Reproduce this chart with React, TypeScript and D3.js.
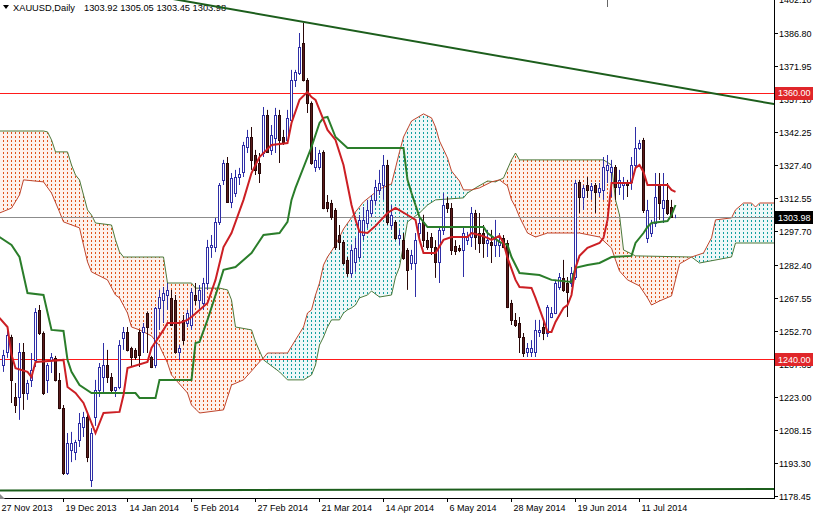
import React from 'react';
import * as d3 from 'd3';

const WIDTH = 813;
const HEIGHT = 515;
const PLOT_RIGHT = 774;
const PLOT_BOTTOM = 498;

// daily bars, one per trading day
const opens = [
  1237.4, 1243.3, 1250.0, 1223.0, 1223.0, 1243.3, 1224.8, 1230.7, 1239.7, 1262.2,
  1251.8, 1230.7, 1239.7, 1240.6, 1230.7, 1218.0, 1188.8, 1199.2, 1198.3, 1203.7,
  1209.5, 1214.0, 1185.6, 1214.0, 1226.2, 1232.0, 1237.4, 1232.0, 1226.2, 1227.5,
  1249.5, 1252.3, 1245.1, 1244.2, 1252.3, 1252.3, 1260.8, 1241.0, 1237.4, 1263.0,
  1266.7, 1268.9, 1267.6, 1266.7, 1243.3, 1257.7, 1256.3, 1255.4, 1268.9, 1266.7,
  1265.3, 1274.3, 1290.5, 1290.5, 1301.8, 1320.7, 1328.3, 1310.7, 1314.8, 1322.0,
  1324.3, 1335.5, 1340.0, 1331.9, 1328.3, 1332.8, 1349.9, 1334.2, 1339.6, 1349.9,
  1340.0, 1338.7, 1347.7, 1365.7, 1368.8, 1382.3, 1365.7, 1355.3, 1326.5, 1326.5,
  1333.3, 1310.7, 1310.3, 1307.2, 1295.9, 1292.7, 1284.7, 1278.8, 1283.8, 1286.0,
  1295.9, 1301.3, 1305.8, 1311.7, 1316.2, 1318.4, 1327.4, 1300.4, 1301.8, 1294.5,
  1293.6, 1289.2, 1283.3, 1283.3, 1296.8, 1301.8, 1293.6, 1295.0, 1290.5, 1283.8,
  1298.2, 1310.3, 1308.0, 1290.9, 1290.0, 1289.2, 1293.6, 1295.0, 1305.8, 1296.8,
  1296.8, 1292.3, 1292.7, 1291.4, 1291.4, 1294.5, 1292.3, 1265.3, 1257.7, 1256.3,
  1250.0, 1243.3, 1243.3, 1243.3, 1252.3, 1254.5, 1251.8, 1259.0, 1260.8, 1272.5,
  1276.6, 1274.3, 1274.3, 1277.0, 1319.7, 1313.0, 1318.4, 1316.2, 1318.4, 1315.3,
  1316.2, 1325.2, 1324.3, 1326.5, 1317.5, 1318.4, 1319.3, 1319.7, 1327.4, 1335.0,
  1338.7, 1294.5, 1296.8, 1301.3, 1318.4, 1308.0, 1311.7, 1308.5, 1303.92,
];
const highs = [
  1244.2, 1253.2, 1251.0, 1229.3, 1247.3, 1247.3, 1230.7, 1242.8, 1263.0, 1264.4,
  1252.5, 1238.3, 1242.8, 1241.5, 1233.8, 1219.4, 1206.8, 1207.3, 1203.7, 1215.8,
  1216.3, 1216.3, 1209.0, 1230.7, 1238.3, 1247.3, 1244.2, 1233.8, 1227.5, 1248.6,
  1254.5, 1254.5, 1245.6, 1245.0, 1253.2, 1256.3, 1261.5, 1241.5, 1263.5, 1271.2,
  1272.5, 1274.3, 1271.2, 1268.9, 1246.4, 1259.9, 1262.2, 1272.0, 1274.3, 1273.4,
  1276.6, 1293.7, 1295.9, 1303.6, 1319.3, 1329.7, 1331.0, 1323.8, 1325.2, 1326.1,
  1337.8, 1343.2, 1344.5, 1334.2, 1332.8, 1353.5, 1352.2, 1345.4, 1353.1, 1352.2,
  1343.2, 1352.2, 1370.2, 1370.2, 1386.8, 1391.3, 1366.5, 1356.0, 1335.5, 1334.2,
  1334.0, 1313.9, 1311.7, 1308.0, 1300.4, 1293.6, 1286.0, 1291.4, 1294.6, 1304.9,
  1308.5, 1311.7, 1313.9, 1320.7, 1325.2, 1331.9, 1329.7, 1309.4, 1302.5, 1298.2,
  1296.8, 1290.0, 1289.2, 1296.8, 1303.6, 1305.0, 1297.3, 1296.8, 1293.6, 1299.5,
  1314.8, 1313.0, 1310.3, 1293.6, 1291.4, 1299.5, 1297.3, 1308.5, 1307.2, 1305.8,
  1300.4, 1298.2, 1298.2, 1302.7, 1296.8, 1295.9, 1293.6, 1266.7, 1260.8, 1259.0,
  1251.8, 1247.3, 1248.6, 1257.7, 1257.7, 1256.8, 1264.4, 1263.5, 1275.7, 1278.8,
  1284.7, 1277.0, 1281.5, 1320.7, 1320.7, 1318.4, 1322.0, 1319.3, 1319.3, 1319.3,
  1331.0, 1331.9, 1329.7, 1327.4, 1325.2, 1322.0, 1320.7, 1331.0, 1344.5, 1338.7,
  1339.6, 1311.7, 1302.7, 1323.8, 1323.8, 1323.8, 1319.3, 1311.7, 1305.05,
];
const lows = [
  1234.3, 1240.6, 1220.3, 1215.8, 1212.7, 1217.2, 1221.7, 1227.5, 1236.5, 1250.9,
  1223.9, 1224.8, 1233.8, 1230.0, 1217.5, 1187.9, 1187.9, 1193.7, 1194.6, 1200.5,
  1205.0, 1193.7, 1182.5, 1210.0, 1223.0, 1224.8, 1229.3, 1224.8, 1223.0, 1226.5,
  1244.2, 1243.5, 1236.5, 1239.7, 1236.5, 1242.8, 1242.8, 1236.0, 1236.0, 1253.2,
  1256.3, 1262.2, 1255.0, 1242.5, 1239.7, 1246.4, 1254.5, 1253.2, 1264.4, 1262.2,
  1262.2, 1271.2, 1285.6, 1288.2, 1300.4, 1318.4, 1310.3, 1308.0, 1313.0, 1318.4,
  1322.0, 1332.8, 1325.2, 1322.9, 1319.3, 1331.0, 1332.8, 1331.9, 1332.8, 1328.3,
  1336.4, 1337.3, 1347.2, 1362.5, 1367.9, 1365.0, 1350.8, 1327.5, 1324.3, 1325.2,
  1307.5, 1306.2, 1302.7, 1289.2, 1289.2, 1282.5, 1277.0, 1276.6, 1279.3, 1284.7,
  1293.6, 1299.0, 1304.0, 1309.4, 1313.9, 1311.7, 1300.4, 1298.2, 1293.6, 1291.4,
  1284.7, 1271.2, 1280.2, 1268.0, 1293.6, 1290.5, 1289.2, 1286.9, 1276.6, 1274.3,
  1295.9, 1305.8, 1286.9, 1286.9, 1288.2, 1277.0, 1291.4, 1290.5, 1289.2, 1287.8,
  1285.6, 1286.0, 1283.3, 1286.0, 1286.0, 1290.0, 1263.0, 1255.4, 1254.5, 1242.8,
  1241.0, 1241.0, 1241.0, 1241.0, 1250.0, 1248.6, 1250.0, 1258.5, 1260.3, 1271.2,
  1270.3, 1259.0, 1272.5, 1275.7, 1305.8, 1307.2, 1312.6, 1311.7, 1305.8, 1313.0,
  1311.7, 1319.3, 1313.0, 1311.7, 1313.9, 1311.7, 1313.0, 1316.2, 1326.5, 1334.2,
  1305.8, 1292.3, 1295.0, 1299.5, 1302.7, 1301.3, 1304.9, 1303.6, 1303.45,
];
const closes = [
  1241.9, 1250.9, 1230.7, 1219.4, 1243.3, 1224.8, 1229.3, 1235.2, 1261.3, 1251.8,
  1224.8, 1237.4, 1241.0, 1230.7, 1218.0, 1188.8, 1202.3, 1202.3, 1202.8, 1211.3,
  1214.0, 1196.0, 1206.8, 1226.2, 1236.5, 1237.4, 1232.0, 1226.2, 1227.5, 1246.4,
  1252.3, 1244.2, 1241.0, 1241.0, 1241.9, 1254.5, 1254.5, 1236.5, 1263.0, 1268.0,
  1269.8, 1271.2, 1255.4, 1243.3, 1245.1, 1248.6, 1260.8, 1270.3, 1266.7, 1271.2,
  1274.3, 1290.5, 1291.4, 1301.8, 1318.4, 1328.3, 1310.7, 1321.5, 1322.0, 1323.4,
  1336.4, 1340.0, 1329.7, 1325.2, 1323.8, 1349.9, 1333.3, 1340.9, 1349.9, 1338.7,
  1337.8, 1348.6, 1365.7, 1369.3, 1380.5, 1365.7, 1355.3, 1328.3, 1329.7, 1332.8,
  1308.0, 1308.0, 1304.0, 1290.5, 1292.7, 1283.3, 1278.8, 1289.2, 1290.0, 1302.7,
  1302.7, 1307.2, 1311.7, 1317.5, 1319.3, 1327.4, 1301.8, 1304.9, 1294.5, 1295.9,
  1285.6, 1280.2, 1286.9, 1293.6, 1301.3, 1293.6, 1290.5, 1290.5, 1283.8, 1298.2,
  1309.4, 1308.0, 1289.2, 1288.7, 1289.2, 1296.8, 1295.0, 1305.8, 1295.0, 1292.3,
  1292.3, 1293.6, 1291.4, 1295.0, 1292.7, 1290.5, 1263.5, 1257.7, 1255.4, 1250.0,
  1242.8, 1245.1, 1245.1, 1253.2, 1253.2, 1251.8, 1263.5, 1260.8, 1274.3, 1277.0,
  1271.2, 1270.3, 1278.8, 1319.3, 1313.0, 1317.0, 1316.2, 1318.0, 1315.3, 1317.0,
  1326.5, 1327.4, 1326.5, 1317.5, 1320.7, 1319.3, 1318.4, 1327.4, 1335.0, 1337.3,
  1307.2, 1307.2, 1301.3, 1313.0, 1310.3, 1311.7, 1305.8, 1304.0, 1303.98,
];

// ichimoku lines as [bar, price] vertices
const tenkan: [number, number][] = [
  [-1, 1258.6], [1, 1254.5], [2, 1242.0], [3, 1236.0], [6, 1234.3], [7, 1232.0], [8, 1238.8],
  [15, 1239.7], [16, 1227.5], [18, 1224.8], [20, 1220.3], [23, 1206.8], [25, 1215.8], [29, 1216.3],
  [30, 1223.9], [31, 1236.0], [36, 1238.8], [37, 1245.1], [40, 1253.2], [41, 1256.3], [44, 1256.3],
  [46, 1257.7], [47, 1259.0], [49, 1262.2], [51, 1265.3], [53, 1275.7], [55, 1290.5], [57, 1296.8],
  [60, 1311.7], [62, 1323.8], [64, 1331.0], [67, 1336.4], [71, 1337.3], [72, 1346.3], [74, 1356.7],
  [76, 1360.3], [77, 1358.0], [78, 1356.7], [79, 1352.2], [81, 1343.2], [83, 1338.7], [85, 1327.4],
  [86, 1318.4], [87, 1309.4], [88, 1302.7], [89, 1297.3], [91, 1296.8], [93, 1300.0], [96, 1305.8],
  [98, 1308.1], [101, 1304.9], [103, 1302.7], [104, 1293.7], [105, 1287.8], [108, 1287.8],
  [110, 1293.7], [112, 1295.0], [116, 1295.0], [117, 1296.8], [119, 1295.9], [121, 1294.6],
  [122, 1293.7], [124, 1295.5], [125, 1292.3], [126, 1285.6], [128, 1275.7], [129, 1272.5],
  [132, 1272.1], [133, 1267.6], [135, 1257.7], [136, 1252.3], [137, 1252.3], [138, 1256.8],
  [140, 1263.1], [141, 1264.4], [142, 1268.9], [143, 1281.1], [144, 1286.5], [146, 1290.1],
  [149, 1292.3], [150, 1294.6], [151, 1302.7], [152, 1319.3], [157, 1319.3], [158, 1326.1],
  [159, 1327.4], [160, 1324.3], [161, 1318.4], [166, 1318.4], [167, 1316.2], [168, 1315.3],
];
const kijun: [number, number][] = [
  [-1, 1295.0], [2, 1291.4], [4, 1286.0], [6, 1269.8], [10, 1268.9], [12, 1253.2], [15, 1252.7],
  [16, 1239.7], [17, 1234.3], [19, 1228.4], [22, 1224.8], [33, 1224.8], [34, 1222.6], [38, 1222.6],
  [39, 1230.7], [47, 1230.7], [48, 1247.3], [49, 1247.8], [51, 1257.7], [54, 1274.3], [55, 1280.2],
  [58, 1281.5], [62, 1287.8], [65, 1295.9], [69, 1296.8], [71, 1301.8], [72, 1311.7], [73, 1317.1],
  [77, 1335.5], [79, 1346.3], [80, 1348.6], [81, 1349.0], [83, 1340.0], [86, 1335.1], [100, 1335.1],
  [101, 1320.7], [102, 1314.8], [104, 1304.0], [106, 1299.5], [120, 1299.5], [121, 1296.8],
  [124, 1292.8], [126, 1291.4], [127, 1286.0], [129, 1278.8], [134, 1277.9], [137, 1275.7],
  [142, 1274.8], [143, 1281.1], [146, 1282.4], [149, 1283.3], [152, 1286.0], [157, 1286.5],
  [158, 1292.3], [160, 1296.8], [161, 1299.5], [162, 1301.3], [166, 1302.2], [167, 1304.9],
  [168, 1309.4],
];
const spanA: [number, number][] = [
  [-1, 1305.8], [2, 1308.0], [4, 1313.9], [5, 1320.7], [10, 1319.8], [12, 1314.8], [14, 1306.3],
  [15, 1301.8], [19, 1299.1], [20, 1291.4], [21, 1283.8], [22, 1279.3], [26, 1275.7], [28, 1268.9],
  [29, 1267.6], [31, 1260.8], [32, 1254.5], [34, 1253.2], [37, 1250.5], [39, 1246.0], [41, 1238.3],
  [42, 1232.9], [46, 1224.8], [47, 1219.4], [49, 1215.8], [55, 1217.2], [57, 1228.4], [60, 1230.7],
  [62, 1234.7], [64, 1238.8], [65, 1240.6], [66, 1242.8], [71, 1242.8], [73, 1248.7], [75, 1254.5],
  [76, 1260.8], [77, 1262.2], [78, 1268.9], [79, 1274.3], [80, 1282.4], [81, 1286.0], [83, 1291.4],
  [85, 1298.6], [88, 1306.3], [90, 1310.8], [94, 1316.6], [97, 1318.9], [98, 1326.1], [99, 1333.3],
  [100, 1340.0], [102, 1347.2], [105, 1350.4], [107, 1348.6], [108, 1344.5], [109, 1338.2],
  [111, 1330.6], [112, 1324.7], [114, 1320.2], [115, 1316.2], [117, 1316.2], [119, 1317.1],
  [122, 1319.8], [124, 1320.7], [126, 1318.0], [127, 1311.7], [128, 1308.5], [129, 1304.0],
  [131, 1296.8], [133, 1295.0], [136, 1296.8], [144, 1296.8], [149, 1295.0], [152, 1290.0],
  [153, 1284.7], [154, 1279.7], [156, 1275.7], [159, 1273.0], [161, 1267.6], [162, 1264.4],
  [164, 1266.2], [167, 1268.5], [168, 1275.7], [169, 1282.9], [172, 1286.0], [175, 1287.8],
  [177, 1294.6], [178, 1302.7], [182, 1303.6], [183, 1307.2], [185, 1310.3], [187, 1310.3],
  [188, 1308.5], [189, 1310.3], [194, 1310.3],
];
const spanB: [number, number][] = [
  [-1, 1342.7], [10, 1342.7], [11, 1342.3], [12, 1338.7], [13, 1333.3], [16, 1333.3], [17, 1327.4],
  [18, 1322.9], [19, 1320.7], [20, 1313.9], [21, 1307.2], [22, 1304.9], [23, 1301.3], [27, 1300.4],
  [28, 1293.7], [29, 1288.3], [30, 1286.0], [40, 1286.0], [41, 1274.3], [47, 1274.3], [48, 1272.0],
  [54, 1272.0], [56, 1271.2], [57, 1266.7], [58, 1254.5], [62, 1253.2], [63, 1247.8], [65, 1239.7],
  [69, 1234.3], [71, 1230.7], [75, 1230.7], [77, 1232.9], [78, 1237.4], [79, 1246.4], [80, 1250.0],
  [81, 1254.5], [82, 1257.7], [84, 1257.7], [85, 1260.8], [86, 1262.2], [87, 1263.1], [88, 1264.4],
  [89, 1267.6], [91, 1268.9], [92, 1270.7], [94, 1268.0], [97, 1268.9], [98, 1277.0], [99, 1281.5],
  [100, 1291.4], [101, 1301.8], [104, 1305.8], [106, 1309.4], [108, 1311.7], [115, 1312.6],
  [116, 1314.8], [118, 1317.1], [121, 1320.2], [123, 1319.8], [125, 1321.6], [127, 1329.7],
  [128, 1332.8], [129, 1329.7], [150, 1329.7], [152, 1327.4], [153, 1311.7], [154, 1304.9],
  [155, 1289.2], [156, 1288.3], [158, 1286.5], [172, 1286.0], [174, 1283.3], [182, 1286.0],
  [183, 1292.3], [194, 1292.3],
];

// drawn objects
const hLevels = [1360.0, 1240.0];
const lastPrice = 1303.98;
const trendTop: [number, number][] = [[30, 1406.0], [193, 1354.7]];
const trendBottom: [number, number][] = [[-1, 1180.9], [193, 1181.6]];

const priceTicks = [
  1402.1, 1386.8, 1371.95, 1357.1, 1342.25, 1327.4, 1312.55, 1297.7,
  1282.4, 1267.55, 1252.7, 1237.85, 1223.0, 1208.15, 1193.3, 1178.45,
];
const dateLabels = [
  '27 Nov 2013', '19 Dec 2013', '14 Jan 2014', '5 Feb 2014', '27 Feb 2014', '21 Mar 2014',
  '14 Apr 2014', '6 May 2014', '28 May 2014', '19 Jun 2014', '11 Jul 2014',
];
const dateBars = [-1, 15, 31, 47, 63, 79, 95, 111, 127, 143, 159];

const FONT = '"Liberation Sans", Arial, sans-serif';
const BULL = '#2e2ea6';
const BEAR_FILL = '#5a1c1c';
const BEAR_LINE = '#2a0808';
const TENKAN = '#cc1f24';
const KIJUN = '#2a7d2a';
const TREND = '#1c5e1c';
const LEVEL = '#ff1a1a';
const DOT_UP = '#e0531a';
const DOT_DN = '#11a0a0';

const App: React.FC = () => {
  // 4 px per bar
  const x = d3.scaleLinear().domain([0, 1]).range([3.5, 7.5]);
  const y = d3.scaleLinear().domain([1178.45, 1402.1]).range([496, -1]);

  const line = d3.line<[number, number]>().x(d => x(d[0])).y(d => y(d[1]));

  const cloud = line(spanB)! + line([...spanA].reverse())!.replace(/^M/, 'L') + 'Z';
  const aStart = x(spanA[0][0]);
  const aEnd = x(spanA[spanA.length - 1][0]);
  const aboveA = line(spanA)! + `L${aEnd},-20L${aStart},-20Z`;
  const belowA = line(spanA)! + `L${aEnd},600L${aStart},600Z`;

  return (
    <svg width={WIDTH} height={HEIGHT} style={{ position: 'absolute', left: 0, top: 0, background: '#fff' }}>
      <defs>
        <clipPath id="plot"><rect x={0} y={0} width={PLOT_RIGHT} height={PLOT_BOTTOM} /></clipPath>
        <clipPath id="aboveA"><path d={aboveA} /></clipPath>
        <clipPath id="belowA"><path d={belowA} /></clipPath>
        <pattern id="dotsUp" patternUnits="userSpaceOnUse" x={3} y={0} width={4} height={4}>
          <rect x={0} y={0} width={1} height={2} fill={DOT_UP} />
        </pattern>
        <pattern id="dotsDn" patternUnits="userSpaceOnUse" x={3} y={0} width={4} height={4}>
          <rect x={0} y={0} width={1} height={2} fill={DOT_DN} />
        </pattern>
      </defs>

      <rect x={0} y={0} width={WIDTH} height={HEIGHT} fill="#fff" />

      {/* header */}
      <path d="M3,5 L9,5 L6,9 Z" fill="#000" />
      <text x={13} y={11} fontFamily={FONT} fontSize={9.3} fill="#000">XAUUSD,Daily</text>
      <text x={84} y={11} fontFamily={FONT} fontSize={9.3} fill="#000">1303.92 1305.05 1303.45 1303.98</text>

      <g clipPath="url(#plot)">
        {/* kumo */}
        <path d={cloud} fill="#fdf1ec" clipPath="url(#aboveA)" />
        <path d={cloud} fill="#eef8f8" clipPath="url(#belowA)" />
        <path d={cloud} fill="url(#dotsUp)" clipPath="url(#aboveA)" />
        <path d={cloud} fill="url(#dotsDn)" clipPath="url(#belowA)" />
        <path d={line(spanB)!} fill="none" stroke="#4d7a3c" strokeWidth={1} />
        <path d={line(spanA)!} fill="none" stroke="#c0452c" strokeWidth={1} />

        {/* horizontal levels */}
        {hLevels.map(v => (
          <rect key={v} x={0} y={Math.round(y(v))} width={PLOT_RIGHT} height={1} fill={LEVEL} shapeRendering="crispEdges" />
        ))}
        <rect x={0} y={Math.round(y(lastPrice))} width={PLOT_RIGHT} height={1} fill="#8c8c8c" shapeRendering="crispEdges" />

        {/* candles */}
        {opens.map((o, i) => {
          const c = closes[i];
          const cx = Math.round(x(i) - 0.5) + 0.5;
          const up = c > o;
          const top = Math.round(y(Math.max(o, c)));
          const bot = Math.round(y(Math.min(o, c)));
          return (
            <g key={i}>
              <line x1={cx} x2={cx} y1={y(highs[i])} y2={y(lows[i])} stroke={up ? BULL : BEAR_LINE} strokeWidth={1} />
              <rect x={cx - 1} y={top + 0.5} width={2} height={Math.max(0, bot - top)}
                fill={up ? '#fff' : BEAR_FILL} stroke={up ? BULL : BEAR_LINE} strokeWidth={1} />
            </g>
          );
        })}

        {/* tenkan / kijun */}
        <path d={line(kijun)!} fill="none" stroke={KIJUN} strokeWidth={2} />
        <path d={line(tenkan)!} fill="none" stroke={TENKAN} strokeWidth={2} />

        {/* trendlines */}
        <path d={line(trendTop)!} fill="none" stroke={TREND} strokeWidth={2} />
        <path d={line(trendBottom)!} fill="none" stroke={TREND} strokeWidth={2} />
      </g>

      {/* frame */}
      <line x1={PLOT_RIGHT + 0.5} x2={PLOT_RIGHT + 0.5} y1={0} y2={PLOT_BOTTOM + 1} stroke="#000" />
      <line x1={0} x2={PLOT_RIGHT + 1} y1={PLOT_BOTTOM + 0.5} y2={PLOT_BOTTOM + 0.5} stroke="#000" />
      <path d="M0,494 L5,499 L0,499 Z" fill="#888" />
      <line x1={607.5} x2={607.5} y1={0} y2={7} stroke="#666" />

      {/* price axis */}
      {priceTicks.map(v => (
        <g key={v}>
          <line x1={PLOT_RIGHT} x2={PLOT_RIGHT + 4} y1={Math.round(y(v)) + 0.5} y2={Math.round(y(v)) + 0.5} stroke="#000" />
          <text x={779} y={y(v) + 3.5} fontFamily={FONT} fontSize={9} fill="#000">{v.toFixed(2)}</text>
        </g>
      ))}
      {hLevels.map(v => (
        <g key={'l' + v}>
          <rect x={775} y={Math.round(y(v)) - 6} width={38} height={13} fill="#e0262a" />
          <text x={778} y={y(v) + 3.5} fontFamily={FONT} fontSize={9} fill="#fff">{v.toFixed(2)}</text>
        </g>
      ))}
      <rect x={775} y={Math.round(y(lastPrice)) - 6} width={38} height={13} fill="#000" />
      <text x={778} y={y(lastPrice) + 3.5} fontFamily={FONT} fontSize={9} fill="#fff">{lastPrice.toFixed(2)}</text>

      {/* date axis */}
      {dateBars.map((b, k) => {
        const tx = Math.round(x(b) - 0.5) + 0.5;
        return (
          <g key={b}>
            <line x1={tx} x2={tx} y1={PLOT_BOTTOM} y2={PLOT_BOTTOM + 4} stroke="#000" />
            <text x={tx + 2} y={511} fontFamily={FONT} fontSize={9} fill="#000">{dateLabels[k]}</text>
          </g>
        );
      })}
    </svg>
  );
};

export default App;
